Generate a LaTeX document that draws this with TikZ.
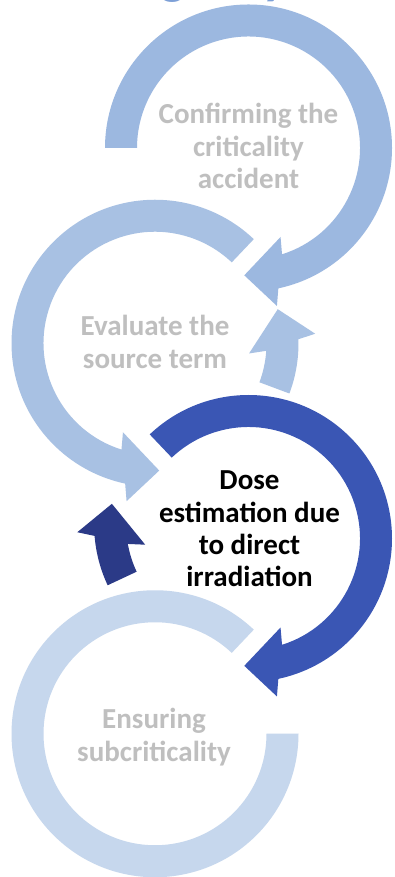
\documentclass[tikz,border=0pt]{standalone}
\usepackage{fontspec}
\setmainfont{Carlito}
\usetikzlibrary{calc}
\definecolor{ringA}{RGB}{156,184,224}
\definecolor{ringB}{RGB}{168,193,227}
\definecolor{ringC}{RGB}{58,86,180}
\definecolor{ringD}{RGB}{43,58,135}
\definecolor{ringE}{RGB}{198,215,237}
\definecolor{greytext}{RGB}{191,191,191}
\definecolor{titleblue}{RGB}{125,160,215}
\tikzset{
  steplabel/.style={align=center, inner sep=0pt, font=\bfseries\fontsize{29}{32.4}\selectfont, text=greytext},
  activelabel/.style={steplabel, text=black}
}
\begin{document}
\begin{tikzpicture}[x=1pt,y=1pt]
\useasboundingbox (0,0) rectangle (395,877);
\fill[white] (0,0) rectangle (395,877);
\coordinate (C1) at (248.5,729);
\coordinate (C2) at (155,533.75);
\coordinate (C3) at (248.5,338.5);
\coordinate (C4) at (155,143.25);
\coordinate (D) at (237.6,352.6);
% title fragment (cut off at the top)
\begin{scope}
\clip (0,0) rectangle (395,877);
\node[anchor=base west, inner sep=0pt, text=titleblue, font=\bfseries\fontsize{53}{60}\selectfont] (title) at (160,883) {gency};
\end{scope}
% circle 1 : clockwise, from 180 to tip at -91.9
\fill[ringA] ($(C1)+(180:143.5pt)$) arc[start angle=180, end angle=-78.0, radius=143.5pt]
  -- ($(C1)+(-79.8:160.5pt)$) -- ($(C1)+(-91.9:127.4pt)$) -- ($(C1)+(-70.2:94.6pt)$)
  -- ($(C1)+(-72.5:111.5pt)$) arc[start angle=-72.5, end angle=180, radius=111.5pt] -- cycle;
% circle 2 : counter-clockwise, from 46.5 to tip at 271.9
\fill[ringB] ($(C2)+(46.5:143.5pt)$) arc[start angle=46.5, end angle=258.0, radius=143.5pt]
  -- ($(C2)+(259.8:160.5pt)$) -- ($(C2)+(271.9:127.4pt)$) -- ($(C2)+(250.2:94.6pt)$)
  -- ($(C2)+(252.5:111.5pt)$) arc[start angle=252.5, end angle=46.5, radius=111.5pt] -- cycle;
% circle 2 small arrow
\fill[ringB] ($(C2)+(-20.5:143.5pt)$) arc[start angle=-20.5, end angle=1.6, radius=143.5pt]
  -- ($(C2)+(3.4:160.5pt)$) -- ($(C2)+(15.5:127.4pt)$) -- ($(C2)+(-6.2:94.6pt)$)
  -- ($(C2)+(-3.9:111.5pt)$) arc[start angle=-3.9, end angle=-20.5, radius=111.5pt] -- cycle;
% circle 3 : clockwise, from 133.5 to tip at -91.9
\fill[ringC] ($(C3)+(133.5:143.5pt)$) arc[start angle=133.5, end angle=-78.0, radius=143.5pt]
  -- ($(C3)+(-79.8:160.5pt)$) -- ($(C3)+(-91.9:127.4pt)$) -- ($(C3)+(-70.2:94.6pt)$)
  -- ($(C3)+(-72.5:111.5pt)$) arc[start angle=-72.5, end angle=133.5, radius=111.5pt] -- cycle;
% dark small arrow
\fill[ringD] ($(D)+(205.1:143.5pt)$) arc[start angle=205.1, end angle=184.6, radius=143.5pt]
  -- ($(D)+(182.8:160.5pt)$) -- ($(D)+(170.7:127.4pt)$) -- ($(D)+(192.4:94.6pt)$)
  -- ($(D)+(190.1:111.5pt)$) arc[start angle=190.1, end angle=205.1, radius=111.5pt] -- cycle;
% circle 4 : plain ring
\fill[ringE] ($(C4)+(46.5:143.5pt)$) arc[start angle=46.5, end angle=360, radius=143.5pt]
  -- ($(C4)+(0:111.5pt)$) arc[start angle=360, end angle=46.5, radius=111.5pt] -- cycle;
% labels
\node[steplabel] (l1) at (248.5,731) {Confirming the\\criticality\\accident};
\node[steplabel] (l2) at (155,535) {Evaluate the\\source term};
\node[activelabel] (l3) at (249.5,348) {Dose\\estimation due\\to direct\\irradiation};
\node[steplabel] (l4) at (154,140) {Ensuring\\subcriticality};
\end{tikzpicture}
\end{document}
